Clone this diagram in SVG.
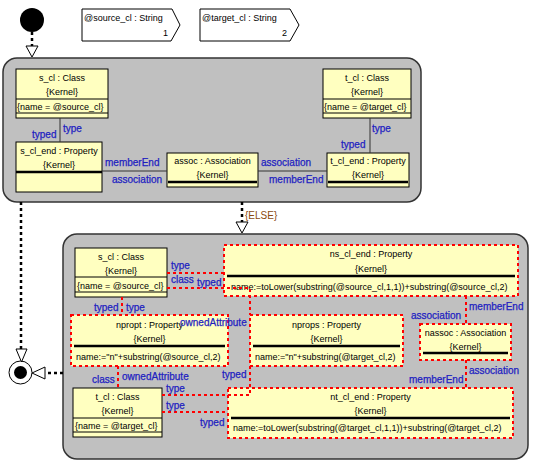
<svg xmlns="http://www.w3.org/2000/svg" width="533" height="466" viewBox="0 0 533 466">
<style>
text{font-family:"Liberation Sans",Arial,sans-serif;font-size:9px;fill:#000}
.c{text-anchor:middle}
.lb{font-size:10px;fill:#1e1ec0;stroke:#1e1ec0;stroke-width:0.25}
.r{text-anchor:end}
.st{fill:#c0c0c0;stroke:#333;stroke-width:1.5}
.n{fill:#ffffc0;stroke:#000;stroke-width:1}
.nd{fill:#ffffc0;stroke:#f00;stroke-width:2;stroke-dasharray:3 3}
.sep{stroke:#000;stroke-width:1}
.thk{stroke:#000;stroke-width:2.5}
.cn{fill:none;stroke:#333;stroke-width:1}
.cd{fill:none;stroke:#f00;stroke-width:2;stroke-dasharray:3 3}
.cf{fill:none;stroke:#000;stroke-width:2.5;stroke-dasharray:3 3}
.ah{fill:#fff;stroke:#000;stroke-width:1}
.pin{fill:#fff;stroke:#000;stroke-width:1}
</style>

<g id="initial"><circle cx="32" cy="20" r="12" fill="#000"/></g>
<g id="pin1"><path class="pin" d="M82,9 H172 L180,25 L171,41 H82 Z"/><text x="84" y="21">@source_cl : String</text><text x="168" y="36" class="r">1</text></g>
<g id="pin2"><path class="pin" d="M200,9 H290 L299,25 L290,41 H200 Z"/><text x="202" y="21">@target_cl : String</text><text x="287" y="36" class="r">2</text></g>

<g id="state1"><rect class="st" x="3" y="58" width="418" height="144" rx="14"/></g>
<g id="state2"><rect class="st" x="63" y="234" width="465" height="225" rx="14"/></g>

<g id="final"><circle cx="20.5" cy="372.5" r="11.5" fill="#fff" stroke="#000"/><circle cx="20.5" cy="372.5" r="6.5" fill="#000"/></g>

<g id="u_s_cl"><rect class="n" x="16" y="69" width="92" height="49"/><line class="sep" x1="16" y1="99" x2="108" y2="99"/><line class="sep" x1="16" y1="113" x2="108" y2="113"/><text class="c" x="62" y="80.5">s_cl : Class</text><text class="c" x="62" y="94.5">{Kernel}</text><text x="17" y="109.5">{name = @source_cl}</text></g>
<g id="u_t_cl"><rect class="n" x="323" y="69" width="88" height="49"/><line class="sep" x1="323" y1="99" x2="411" y2="99"/><line class="sep" x1="323" y1="113" x2="411" y2="113"/><text class="c" x="367" y="80.5">t_cl : Class</text><text class="c" x="367" y="94.5">{Kernel}</text><text x="324" y="109.5">{name = @target_cl}</text></g>
<g id="u_s_cl_end"><rect class="n" x="16" y="142" width="86" height="50"/><line class="thk" x1="16" y1="172" x2="102" y2="172"/><text class="c" x="59" y="153.5">s_cl_end : Property</text><text class="c" x="59" y="167.5">{Kernel}</text></g>
<g id="u_assoc"><rect class="n" x="167" y="153" width="91" height="34"/><line class="thk" x1="168" y1="182" x2="257" y2="182"/><text class="c" x="212.5" y="163.5">assoc : Association</text><text class="c" x="212.5" y="177.5">{Kernel}</text></g>
<g id="u_t_cl_end"><rect class="n" x="327" y="153" width="82" height="34"/><line class="thk" x1="328" y1="182" x2="408" y2="182"/><text class="c" x="368" y="163.5">t_cl_end : Property</text><text class="c" x="368" y="177.5">{Kernel}</text></g>

<g id="l_s_cl"><rect class="n" x="75" y="248" width="92" height="49"/><line class="sep" x1="75" y1="277" x2="167" y2="277"/><line class="sep" x1="75" y1="292" x2="167" y2="292"/><text class="c" x="121" y="259.5">s_cl : Class</text><text class="c" x="121" y="273.5">{Kernel}</text><text x="77" y="288.5">{name = @source_cl}</text></g>
<g id="l_t_cl"><rect class="n" x="73" y="388" width="89" height="49"/><line class="sep" x1="73" y1="418" x2="162" y2="418"/><line class="sep" x1="73" y1="432" x2="162" y2="432"/><text class="c" x="117.5" y="399.5">t_cl : Class</text><text class="c" x="117.5" y="413.5">{Kernel}</text><text x="75" y="428.5">{name = @target_cl}</text></g>
<g id="ns_cl_end"><rect class="nd" x="224" y="245" width="294" height="51"/><line class="thk" x1="227" y1="276" x2="515" y2="276"/><text class="c" x="371" y="256.5">ns_cl_end : Property</text><text class="c" x="371" y="271.5">{Kernel}</text><text x="231" y="289.5">name:=toLower(substring(@source_cl,1,1))+substring(@source_cl,2)</text></g>
<g id="npropt"><rect class="nd" x="71" y="315" width="157" height="51"/><line class="thk" x1="74" y1="346" x2="225" y2="346"/><text class="c" x="149.5" y="327.5">npropt : Property</text><text class="c" x="149.5" y="341.5">{Kernel}</text><text x="76" y="359.5">name:="n"+substring(@source_cl,2)</text></g>
<g id="nprops"><rect class="nd" x="250" y="315" width="153" height="51"/><line class="thk" x1="253" y1="346" x2="400" y2="346"/><text class="c" x="326.5" y="327.5">nprops : Property</text><text class="c" x="326.5" y="341.5">{Kernel}</text><text x="255" y="359.5">name:="n"+substring(@target_cl,2)</text></g>
<g id="nassoc"><rect class="nd" x="420" y="324" width="91" height="36"/><line class="thk" x1="423" y1="353" x2="508" y2="353"/><text class="c" x="465.5" y="335.5">nassoc : Association</text><text class="c" x="465.5" y="349.5">{Kernel}</text></g>
<g id="nt_cl_end"><rect class="nd" x="228" y="388" width="285" height="50"/><line class="thk" x1="231" y1="418" x2="510" y2="418"/><text class="c" x="370.5" y="399.5">nt_cl_end : Property</text><text class="c" x="370.5" y="413.5">{Kernel}</text><text x="233" y="430.5">name:=toLower(substring(@target_cl,1,1))+substring(@target_cl,2)</text></g>

<g id="connectors">
<line class="cn" x1="60" y1="118" x2="60" y2="142"/>
<line class="cn" x1="102" y1="171" x2="167" y2="171"/>
<line class="cn" x1="258" y1="171" x2="327" y2="171"/>
<line class="cn" x1="370" y1="118" x2="370" y2="153"/>
<line class="cd" x1="167" y1="273" x2="224" y2="273"/>
<polyline class="cd" points="167,288 250,288 250,315"/>
<line class="cd" x1="122" y1="297" x2="122" y2="315"/>
<line class="cd" x1="118" y1="366" x2="118" y2="388"/>
<polyline class="cd" points="162,395 250,395 250,366"/>
<line class="cd" x1="162" y1="412" x2="228" y2="412"/>
<line class="cd" x1="466" y1="296" x2="466" y2="324"/>
<line class="cd" x1="466" y1="360" x2="466" y2="388"/>
<line class="cf" x1="32" y1="32" x2="32" y2="46"/>
<path class="ah" d="M26,46 H38 L32,57 Z"/>
<line class="cf" x1="21" y1="202" x2="21" y2="349"/>
<path class="ah" d="M16,349 H27 L21.5,362 Z"/>
<line class="cf" x1="242" y1="202" x2="242" y2="222"/>
<path class="ah" d="M236,222 H248 L242,233 Z"/>
<line class="cf" x1="63" y1="373" x2="45" y2="373"/>
<path class="ah" d="M45,367 V379 L32,373 Z"/>
<text x="245" y="219" style="font-size:10px;fill:#8a4a10">{ELSE}</text>
<text class="lb" x="32" y="138">typed</text>
<text class="lb" x="63" y="132">type</text>
<text class="lb" x="105" y="166">memberEnd</text>
<text class="lb" x="112" y="183">association</text>
<text class="lb" x="261" y="166">association</text>
<text class="lb" x="269" y="183">memberEnd</text>
<text class="lb" x="372" y="132">type</text>
<text class="lb" x="341" y="148">typed</text>
<text class="lb" x="171" y="269">type</text>
<text class="lb" x="171" y="283">class</text>
<text class="lb" x="197" y="286">typed</text>
<text class="lb" x="94" y="311">typed</text>
<text class="lb" x="126" y="311">type</text>
<text class="lb" x="180" y="326">ownedAttribute</text>
<text class="lb" x="222" y="378">typed</text>
<text class="lb" x="92" y="383">class</text>
<text class="lb" x="122" y="380">ownedAttribute</text>
<text class="lb" x="166" y="392">type</text>
<text class="lb" x="166" y="409">type</text>
<text class="lb" x="200" y="426">typed</text>
<text class="lb" x="469" y="310">memberEnd</text>
<text class="lb" x="411" y="319">association</text>
<text class="lb" x="469" y="374">association</text>
<text class="lb" x="409" y="383">memberEnd</text>
</g>
</svg>
